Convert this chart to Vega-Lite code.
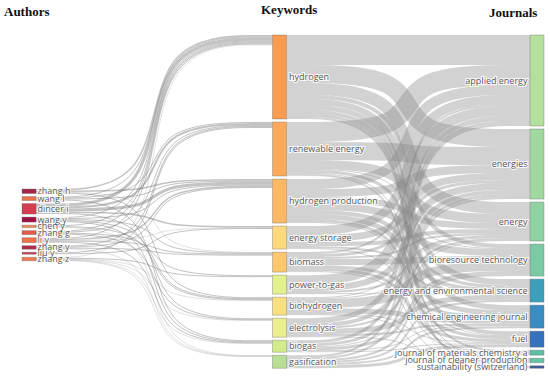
{
  "$schema": "https://vega.github.io/schema/vega-lite/v6.json",
  "width": 550,
  "height": 376,
  "autosize": {"type": "none"},
  "padding": 0,
  "config": {"view": {"stroke": null}},
  "datasets": {
    "nodes": [
      {"stage": "Authors", "node": "zhang h", "rank": 0, "value": 4.5},
      {"stage": "Authors", "node": "wang l", "rank": 1, "value": 4},
      {"stage": "Authors", "node": "dincer i", "rank": 2, "value": 10.5},
      {"stage": "Authors", "node": "wang y", "rank": 3, "value": 5},
      {"stage": "Authors", "node": "chen y", "rank": 4, "value": 2.5},
      {"stage": "Authors", "node": "zhang g", "rank": 5, "value": 4},
      {"stage": "Authors", "node": "li y", "rank": 6, "value": 5},
      {"stage": "Authors", "node": "zhang y", "rank": 7, "value": 3.5},
      {"stage": "Authors", "node": "liu y", "rank": 8, "value": 2},
      {"stage": "Authors", "node": "zhang z", "rank": 9, "value": 3.5},
      {"stage": "Keywords", "node": "hydrogen", "rank": 0, "value": 84},
      {"stage": "Keywords", "node": "renewable energy", "rank": 1, "value": 54},
      {"stage": "Keywords", "node": "hydrogen production", "rank": 2, "value": 44},
      {"stage": "Keywords", "node": "energy storage", "rank": 3, "value": 23},
      {"stage": "Keywords", "node": "biomass", "rank": 4, "value": 20},
      {"stage": "Keywords", "node": "power-to-gas", "rank": 5, "value": 19},
      {"stage": "Keywords", "node": "biohydrogen", "rank": 6, "value": 18},
      {"stage": "Keywords", "node": "electrolysis", "rank": 7, "value": 19},
      {"stage": "Keywords", "node": "biogas", "rank": 8, "value": 12},
      {"stage": "Keywords", "node": "gasification", "rank": 9, "value": 13},
      {"stage": "Journals", "node": "applied energy", "rank": 0, "value": 91},
      {"stage": "Journals", "node": "energies", "rank": 1, "value": 70},
      {"stage": "Journals", "node": "energy", "rank": 2, "value": 39},
      {"stage": "Journals", "node": "bioresource technology", "rank": 3, "value": 32},
      {"stage": "Journals", "node": "energy and environmental science", "rank": 4, "value": 23},
      {"stage": "Journals", "node": "chemical engineering journal", "rank": 5, "value": 23},
      {"stage": "Journals", "node": "fuel", "rank": 6, "value": 16},
      {"stage": "Journals", "node": "journal of materials chemistry a", "rank": 7, "value": 5},
      {"stage": "Journals", "node": "journal of cleaner production", "rank": 8, "value": 4.5},
      {"stage": "Journals", "node": "sustainability (switzerland)", "rank": 9, "value": 2.5}
    ],
    "links": [
      {"source": "zhang h", "target": "hydrogen", "value": 1.5},
      {"source": "zhang h", "target": "hydrogen production", "value": 1.5},
      {"source": "zhang h", "target": "biomass", "value": 0.5},
      {"source": "zhang h", "target": "biohydrogen", "value": 1},
      {"source": "wang l", "target": "hydrogen", "value": 1},
      {"source": "wang l", "target": "renewable energy", "value": 1},
      {"source": "wang l", "target": "hydrogen production", "value": 1},
      {"source": "wang l", "target": "biogas", "value": 1},
      {"source": "dincer i", "target": "hydrogen", "value": 3},
      {"source": "dincer i", "target": "renewable energy", "value": 2},
      {"source": "dincer i", "target": "hydrogen production", "value": 3},
      {"source": "dincer i", "target": "energy storage", "value": 1.5},
      {"source": "dincer i", "target": "electrolysis", "value": 1},
      {"source": "wang y", "target": "hydrogen", "value": 1},
      {"source": "wang y", "target": "hydrogen production", "value": 1},
      {"source": "wang y", "target": "biomass", "value": 1},
      {"source": "wang y", "target": "biohydrogen", "value": 1},
      {"source": "wang y", "target": "biogas", "value": 1},
      {"source": "chen y", "target": "hydrogen", "value": 1},
      {"source": "chen y", "target": "biohydrogen", "value": 1},
      {"source": "chen y", "target": "gasification", "value": 0.5},
      {"source": "zhang g", "target": "hydrogen", "value": 1},
      {"source": "zhang g", "target": "renewable energy", "value": 1},
      {"source": "zhang g", "target": "power-to-gas", "value": 1},
      {"source": "zhang g", "target": "electrolysis", "value": 1},
      {"source": "li y", "target": "hydrogen", "value": 1},
      {"source": "li y", "target": "hydrogen production", "value": 1.5},
      {"source": "li y", "target": "energy storage", "value": 0.5},
      {"source": "li y", "target": "biomass", "value": 1},
      {"source": "li y", "target": "biogas", "value": 1},
      {"source": "zhang y", "target": "renewable energy", "value": 1},
      {"source": "zhang y", "target": "hydrogen production", "value": 1},
      {"source": "zhang y", "target": "biomass", "value": 1},
      {"source": "zhang y", "target": "gasification", "value": 0.5},
      {"source": "liu y", "target": "renewable energy", "value": 1},
      {"source": "liu y", "target": "energy storage", "value": 1},
      {"source": "zhang z", "target": "hydrogen", "value": 0.5},
      {"source": "zhang z", "target": "power-to-gas", "value": 1},
      {"source": "zhang z", "target": "biohydrogen", "value": 0.5},
      {"source": "zhang z", "target": "electrolysis", "value": 0.5},
      {"source": "zhang z", "target": "biogas", "value": 0.5},
      {"source": "zhang z", "target": "gasification", "value": 0.5},
      {"source": "hydrogen", "target": "applied energy", "value": 30},
      {"source": "hydrogen", "target": "energies", "value": 18},
      {"source": "hydrogen", "target": "energy", "value": 12},
      {"source": "hydrogen", "target": "bioresource technology", "value": 4},
      {"source": "hydrogen", "target": "energy and environmental science", "value": 6},
      {"source": "hydrogen", "target": "chemical engineering journal", "value": 5},
      {"source": "hydrogen", "target": "fuel", "value": 4},
      {"source": "hydrogen", "target": "journal of materials chemistry a", "value": 2},
      {"source": "hydrogen", "target": "journal of cleaner production", "value": 1},
      {"source": "hydrogen", "target": "sustainability (switzerland)", "value": 2},
      {"source": "renewable energy", "target": "applied energy", "value": 20},
      {"source": "renewable energy", "target": "energies", "value": 18},
      {"source": "renewable energy", "target": "energy", "value": 9},
      {"source": "renewable energy", "target": "bioresource technology", "value": 1},
      {"source": "renewable energy", "target": "energy and environmental science", "value": 3},
      {"source": "renewable energy", "target": "fuel", "value": 1},
      {"source": "renewable energy", "target": "journal of cleaner production", "value": 1.5},
      {"source": "renewable energy", "target": "sustainability (switzerland)", "value": 0.5},
      {"source": "hydrogen production", "target": "applied energy", "value": 10},
      {"source": "hydrogen production", "target": "energies", "value": 8},
      {"source": "hydrogen production", "target": "energy", "value": 6},
      {"source": "hydrogen production", "target": "bioresource technology", "value": 7},
      {"source": "hydrogen production", "target": "energy and environmental science", "value": 4},
      {"source": "hydrogen production", "target": "chemical engineering journal", "value": 5},
      {"source": "hydrogen production", "target": "fuel", "value": 3},
      {"source": "hydrogen production", "target": "journal of materials chemistry a", "value": 1},
      {"source": "energy storage", "target": "applied energy", "value": 9},
      {"source": "energy storage", "target": "energies", "value": 7},
      {"source": "energy storage", "target": "energy", "value": 4},
      {"source": "energy storage", "target": "energy and environmental science", "value": 2},
      {"source": "energy storage", "target": "journal of materials chemistry a", "value": 1},
      {"source": "biomass", "target": "applied energy", "value": 2},
      {"source": "biomass", "target": "energies", "value": 3},
      {"source": "biomass", "target": "energy", "value": 2},
      {"source": "biomass", "target": "bioresource technology", "value": 6},
      {"source": "biomass", "target": "chemical engineering journal", "value": 3},
      {"source": "biomass", "target": "fuel", "value": 3},
      {"source": "biomass", "target": "journal of cleaner production", "value": 1},
      {"source": "power-to-gas", "target": "applied energy", "value": 10},
      {"source": "power-to-gas", "target": "energies", "value": 6},
      {"source": "power-to-gas", "target": "energy", "value": 2},
      {"source": "power-to-gas", "target": "energy and environmental science", "value": 1},
      {"source": "biohydrogen", "target": "energies", "value": 1},
      {"source": "biohydrogen", "target": "energy", "value": 1},
      {"source": "biohydrogen", "target": "bioresource technology", "value": 9},
      {"source": "biohydrogen", "target": "chemical engineering journal", "value": 5},
      {"source": "biohydrogen", "target": "fuel", "value": 1},
      {"source": "biohydrogen", "target": "journal of cleaner production", "value": 1},
      {"source": "electrolysis", "target": "applied energy", "value": 5},
      {"source": "electrolysis", "target": "energies", "value": 4},
      {"source": "electrolysis", "target": "energy", "value": 2},
      {"source": "electrolysis", "target": "energy and environmental science", "value": 5},
      {"source": "electrolysis", "target": "chemical engineering journal", "value": 2},
      {"source": "electrolysis", "target": "journal of materials chemistry a", "value": 1},
      {"source": "biogas", "target": "applied energy", "value": 3},
      {"source": "biogas", "target": "energies", "value": 3},
      {"source": "biogas", "target": "energy", "value": 1},
      {"source": "biogas", "target": "bioresource technology", "value": 3},
      {"source": "biogas", "target": "chemical engineering journal", "value": 1},
      {"source": "biogas", "target": "fuel", "value": 1},
      {"source": "gasification", "target": "applied energy", "value": 2},
      {"source": "gasification", "target": "energies", "value": 2},
      {"source": "gasification", "target": "bioresource technology", "value": 2},
      {"source": "gasification", "target": "energy and environmental science", "value": 2},
      {"source": "gasification", "target": "chemical engineering journal", "value": 2},
      {"source": "gasification", "target": "fuel", "value": 3}
    ]
  },
  "layer": [
    {
      "data": {"name": "links"},
      "transform": [
        {"lookup": "source", "from": {"data": {"name": "nodes"}, "key": "node", "fields": ["stage", "rank"]}, "as": ["sStage", "sRank"]},
        {"lookup": "target", "from": {"data": {"name": "nodes"}, "key": "node", "fields": ["stage", "rank"]}, "as": ["tStage", "tRank"]},
        {"filter": "datum.sStage === 'Keywords'"},
        {"window": [{"op": "sum", "field": "value", "as": "sc"}], "sort": [{"field": "sRank", "order": "ascending"}, {"field": "tRank", "order": "ascending"}], "frame": [null, 0]},
        {"window": [{"op": "sum", "field": "value", "as": "tc"}], "sort": [{"field": "tRank", "order": "ascending"}, {"field": "sRank", "order": "ascending"}], "frame": [null, 0]},
        {"calculate": "35 + datum.sc - datum.value / 2 + datum.sRank * 3.03", "as": "ys"},
        {"calculate": "35 + datum.tc - datum.value / 2 + datum.tRank * 3.03", "as": "yt"},
        {"calculate": "datum.source + '|' + datum.target", "as": "lid"},
        {"fold": ["ys", "yt"], "as": ["k1", "v1"]},
        {"fold": ["ys", "yt"], "as": ["k2", "v2"]},
        {"calculate": "datum.k1 === datum.k2 ? (datum.k1 === 'ys' ? 286.5 : 530) : 408.25", "as": "px"},
        {"calculate": "datum.k1 === 'ys' ? datum.ys : datum.yt", "as": "py"},
        {"calculate": "(datum.k1 === 'yt' ? 2 : 0) + (datum.k2 === 'yt' ? 1 : 0)", "as": "pi"}
      ],
      "mark": {"type": "line", "interpolate": "basis", "color": "#8a8a8a", "strokeOpacity": 0.38, "strokeCap": "butt"},
      "encoding": {
        "x": {"field": "px", "type": "quantitative", "scale": {"domain": [0, 550], "nice": false, "zero": false}, "axis": null},
        "y": {"field": "py", "type": "quantitative", "scale": {"domain": [0, 376], "nice": false, "zero": false, "reverse": true}, "axis": null},
        "order": {"field": "pi", "type": "quantitative"},
        "detail": {"field": "lid", "type": "nominal"},
        "strokeWidth": {"field": "value", "type": "quantitative", "scale": {"domain": [0, 100], "range": [0, 100]}, "legend": null}
      }
    },
    {
      "data": {"name": "links"},
      "transform": [
        {"lookup": "source", "from": {"data": {"name": "nodes"}, "key": "node", "fields": ["stage", "rank"]}, "as": ["sStage", "sRank"]},
        {"lookup": "target", "from": {"data": {"name": "nodes"}, "key": "node", "fields": ["stage", "rank"]}, "as": ["tStage", "tRank"]},
        {"calculate": "datum.sStage === 'Authors' ? 1 : 0", "as": "isA"},
        {"calculate": "datum.isA === 1 ? datum.tRank : datum.sRank", "as": "kwRank"},
        {"calculate": "datum.isA === 1 ? 0 : datum.value", "as": "outv"},
        {"window": [{"op": "sum", "field": "outv", "as": "kwCum"}], "sort": [{"field": "kwRank", "order": "ascending"}, {"field": "isA", "order": "descending"}], "frame": [null, 0]},
        {"filter": "datum.isA === 1"},
        {"window": [{"op": "sum", "field": "value", "as": "sc"}], "sort": [{"field": "sRank", "order": "ascending"}, {"field": "tRank", "order": "ascending"}], "frame": [null, 0]},
        {"window": [{"op": "sum", "field": "value", "as": "tOff"}], "groupby": ["target"], "sort": [{"field": "sRank", "order": "ascending"}], "frame": [null, 0]},
        {"calculate": "189 + datum.sc - datum.value / 2 + datum.sRank * 3.03", "as": "ys"},
        {"calculate": "35 + datum.kwCum + datum.tRank * 3.03 + datum.tOff - datum.value / 2", "as": "yt"},
        {"calculate": "datum.source + '|' + datum.target", "as": "lid"},
        {"fold": ["ys", "yt"], "as": ["k1", "v1"]},
        {"fold": ["ys", "yt"], "as": ["k2", "v2"]},
        {"calculate": "datum.k1 === datum.k2 ? (datum.k1 === 'ys' ? 36 : 272.5) : 154.25", "as": "px"},
        {"calculate": "datum.k1 === 'ys' ? datum.ys : datum.yt", "as": "py"},
        {"calculate": "(datum.k1 === 'yt' ? 2 : 0) + (datum.k2 === 'yt' ? 1 : 0)", "as": "pi"}
      ],
      "mark": {"type": "line", "interpolate": "basis", "color": "#7a7a7a", "strokeOpacity": 0.45, "strokeCap": "butt"},
      "encoding": {
        "x": {"field": "px", "type": "quantitative", "scale": {"domain": [0, 550], "nice": false, "zero": false}, "axis": null},
        "y": {"field": "py", "type": "quantitative", "scale": {"domain": [0, 376], "nice": false, "zero": false, "reverse": true}, "axis": null},
        "order": {"field": "pi", "type": "quantitative"},
        "detail": {"field": "lid", "type": "nominal"},
        "strokeWidth": {"field": "value", "type": "quantitative", "scale": {"domain": [0, 100], "range": [0, 100]}, "legend": null}
      }
    },
    {
      "data": {"name": "nodes"},
      "transform": [
        {"stack": "value", "groupby": ["stage"], "sort": [{"field": "rank", "order": "ascending"}], "as": ["c0", "c1"]},
        {"calculate": "(datum.stage === 'Authors' ? 189 : 35) + datum.c0 + datum.rank * 3.03", "as": "y0"},
        {"calculate": "datum.y0 + datum.value", "as": "y1"},
        {"calculate": "datum.stage === 'Authors' ? 22 : (datum.stage === 'Keywords' ? 272.5 : 530)", "as": "x0"},
        {"calculate": "datum.x0 + 14", "as": "x1"}
      ],
      "mark": {"type": "rect", "stroke": "#666666", "strokeOpacity": 0.45, "strokeWidth": 0.8},
      "encoding": {
        "x": {"field": "x0", "type": "quantitative", "scale": {"domain": [0, 550], "nice": false, "zero": false}, "axis": null},
        "x2": {"field": "x1"},
        "y": {"field": "y0", "type": "quantitative", "scale": {"domain": [0, 376], "nice": false, "zero": false, "reverse": true}, "axis": null},
        "y2": {"field": "y1"},
        "color": {
          "field": "node", "type": "nominal", "legend": null,
          "scale": {
            "domain": ["zhang h", "wang l", "dincer i", "wang y", "chen y", "zhang g", "li y", "zhang y", "liu y", "zhang z",
                       "hydrogen", "renewable energy", "hydrogen production", "energy storage", "biomass", "power-to-gas", "biohydrogen", "electrolysis", "biogas", "gasification",
                       "applied energy", "energies", "energy", "bioresource technology", "energy and environmental science", "chemical engineering journal", "fuel", "journal of materials chemistry a", "journal of cleaner production", "sustainability (switzerland)"],
            "range": ["#a3264a", "#e8734a", "#d43d4f", "#9e0f44", "#f08a5a", "#e55a4a", "#f07048", "#b22a4c", "#c83a50", "#f27a4f",
                      "#f99b50", "#fbaa5c", "#fcb865", "#fcd97f", "#fcc76e", "#e4f08e", "#f8df82", "#eaee8e", "#d1ec8a", "#b7df96",
                      "#b3e09b", "#9fd9a0", "#90d3a2", "#7ccaa4", "#3d9fb9", "#3b8cc1", "#3672bd", "#5dbfa6", "#63c3a3", "#3f5c9b"]
          }
        }
      }
    },
    {
      "data": {"name": "nodes"},
      "transform": [
        {"stack": "value", "groupby": ["stage"], "sort": [{"field": "rank", "order": "ascending"}], "as": ["c0", "c1"]},
        {"calculate": "(datum.stage === 'Authors' ? 189 : 35) + datum.c0 + datum.rank * 3.03 + datum.value / 2", "as": "ym"},
        {"filter": "datum.stage !== 'Journals'"},
        {"calculate": "datum.stage === 'Authors' ? 37.5 : 289", "as": "lx"}
      ],
      "layer": [
        {"mark": {"type": "text", "align": "left", "baseline": "middle", "font": "Open Sans", "fontSize": 9, "stroke": "#ffffff", "strokeWidth": 2.2, "strokeOpacity": 0.85, "fill": "#ffffff"}},
        {"mark": {"type": "text", "align": "left", "baseline": "middle", "font": "Open Sans", "fontSize": 9, "fill": "#555555"}}
      ],
      "encoding": {
        "x": {"field": "lx", "type": "quantitative", "scale": {"domain": [0, 550], "nice": false, "zero": false}, "axis": null},
        "y": {"field": "ym", "type": "quantitative", "scale": {"domain": [0, 376], "nice": false, "zero": false, "reverse": true}, "axis": null},
        "text": {"field": "node", "type": "nominal"}
      }
    },
    {
      "data": {"name": "nodes"},
      "transform": [
        {"stack": "value", "groupby": ["stage"], "sort": [{"field": "rank", "order": "ascending"}], "as": ["c0", "c1"]},
        {"calculate": "35 + datum.c0 + datum.rank * 3.03 + datum.value / 2", "as": "ym"},
        {"filter": "datum.stage === 'Journals'"}
      ],
      "layer": [
        {"mark": {"type": "text", "align": "right", "baseline": "middle", "font": "Open Sans", "fontSize": 9, "stroke": "#ffffff", "strokeWidth": 2.2, "strokeOpacity": 0.85, "fill": "#ffffff"}},
        {"mark": {"type": "text", "align": "right", "baseline": "middle", "font": "Open Sans", "fontSize": 9, "fill": "#555555"}}
      ],
      "encoding": {
        "x": {"datum": 527.5, "type": "quantitative", "scale": {"domain": [0, 550], "nice": false, "zero": false}, "axis": null},
        "y": {"field": "ym", "type": "quantitative", "scale": {"domain": [0, 376], "nice": false, "zero": false, "reverse": true}, "axis": null},
        "text": {"field": "node", "type": "nominal"}
      }
    },
    {
      "data": {"name": "nodes"},
      "transform": [
        {"aggregate": [{"op": "count", "as": "n"}], "groupby": ["stage"]},
        {"calculate": "datum.stage === 'Authors' ? 4 : (datum.stage === 'Keywords' ? 261 : 489)", "as": "tx"},
        {"calculate": "datum.stage === 'Authors' ? 15.5 : (datum.stage === 'Keywords' ? 13.5 : 16.5)", "as": "ty"}
      ],
      "mark": {"type": "text", "align": "left", "baseline": "alphabetic", "font": "Liberation Serif", "fontSize": 13, "fontWeight": "bold", "fill": "#111111"},
      "encoding": {
        "x": {"field": "tx", "type": "quantitative", "scale": {"domain": [0, 550], "nice": false, "zero": false}, "axis": null},
        "y": {"field": "ty", "type": "quantitative", "scale": {"domain": [0, 376], "nice": false, "zero": false, "reverse": true}, "axis": null},
        "text": {"field": "stage", "type": "nominal"}
      }
    }
  ]
}
